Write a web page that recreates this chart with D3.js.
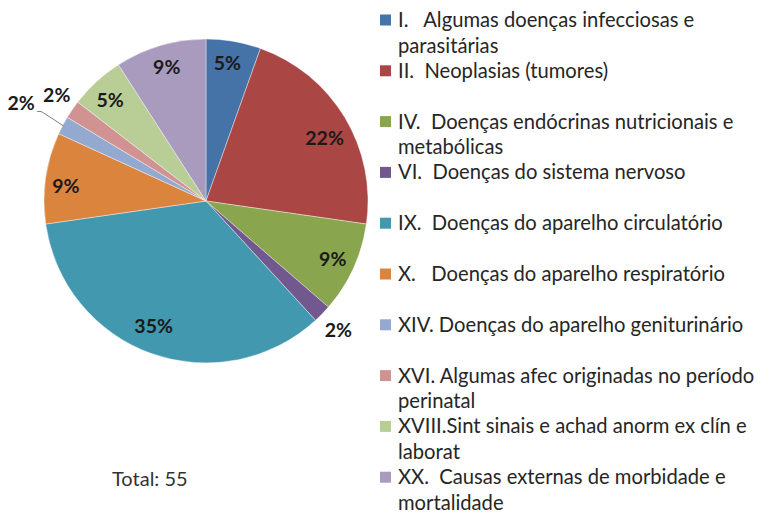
<!DOCTYPE html>
<html>
<head>
<meta charset="utf-8">
<script src="https://cdn.jsdelivr.net/npm/d3@7"></script>
<style>
	body { margin: 0; background: #fff; }
	svg { display: block; font-family: Lato, "Open Sans", sans-serif; }
	.legend text { font-size: 20.2px; fill: #262626; white-space: pre; }
	.pct { font-size: 19.5px; font-weight: bold; fill: #1a1a1a; }
</style>
</head>
<body>
<svg width="760" height="513"></svg>
<script>
// data (Total: 55)
const categories = [
	['I.   Algumas doenças infecciosas e', 'parasitárias'],
	['II.  Neoplasias (tumores)'],
	['IV.  Doenças endócrinas nutricionais e', 'metabólicas'],
	['VI.  Doenças do sistema nervoso'],
	['IX.  Doenças do aparelho circulatório'],
	['X.   Doenças do aparelho respiratório'],
	['XIV. Doenças do aparelho geniturinário'],
	['XVI. Algumas afec originadas no período', 'perinatal'],
	['XVIII.Sint sinais e achad anorm ex clín e', 'laborat'],
	['XX.  Causas externas de morbidade e', 'mortalidade']
];
const counts = [3, 12, 5, 1, 19, 5, 1, 1, 3, 5];
const colors = ['#4572A7', '#AA4643', '#89A54E', '#71588F', '#4198AF',
	'#DB843D', '#93A9CF', '#D19392', '#B9CD96', '#A99BBD'];

const width = 760, height = 513,
	cx = 206, cy = 201, radius = 162;

// label radius (as fraction of radius) and angle nudge in degrees, per slice
const labelK = [0.86, 0.83, 0.86, 1.14, 0.84, 0.87, 1.29, 1.13, 0.86, 0.86];
const labelNudge = [-1, 3, 0, 0, 3, -2, 0, 1, -1, 0];

const svg = d3.select('svg');

const pie = d3.pie().sort(null).value(d => d);
const arcs = pie(counts);
const total = d3.sum(counts);

const arc = d3.arc().innerRadius(0).outerRadius(radius);

const chart = svg.append('g')
	.attr('transform', `translate(${cx},${cy})`);

chart.selectAll('path')
	.data(arcs)
	.enter()
	.append('path')
	.attr('d', arc)
	.attr('fill', (d, i) => colors[i])
	.attr('stroke', '#fff')
	.attr('stroke-width', 0.4);

function polar(a, r) {
	return [Math.sin(a) * r, -Math.cos(a) * r];
}

arcs.forEach((d, i) => {
	let mid = (d.startAngle + d.endAngle) / 2 + labelNudge[i] * Math.PI / 180,
		p = polar(mid, radius * labelK[i]);
	chart.append('text')
		.attr('class', 'pct')
		.attr('x', p[0])
		.attr('y', p[1])
		.attr('dy', '0.35em')
		.attr('text-anchor', 'middle')
		.text(Math.round(d.data / total * 100) + '%');

	// leader line for the far-out label
	if (labelK[i] > 1.2) {
		let a = (d.startAngle + d.endAngle) / 2,
			edge = polar(a, radius - 1),
			start = [p[0] + 16, p[1] + 8];
		chart.append('polyline')
			.attr('points', [start, [start[0] + 4, start[1]], edge].map(q => q.join(',')).join(' '))
			.attr('fill', 'none')
			.attr('stroke', '#7f7f7f')
			.attr('stroke-width', 1);
	}
});

// legend
const legendX = 380, legendY = 20, legendStep = 50.8, lineH = 25.8;

const legend = svg.append('g').attr('class', 'legend');

categories.forEach((lines, i) => {
	let y = legendY + i * legendStep;
	legend.append('rect')
		.attr('x', legendX)
		.attr('y', y - 5.5)
		.attr('width', 11)
		.attr('height', 11)
		.attr('fill', colors[i]);
	lines.forEach((t, j) => {
		legend.append('text')
			.attr('x', legendX + 18)
			.attr('y', y + j * lineH)
			.attr('dy', '0.35em')
			.text(t);
	});
});

svg.append('text')
	.attr('x', 112)
	.attr('y', 479)
	.attr('dy', '0.35em')
	.style('font-size', '20px')
	.style('fill', '#333')
	.text('Total: 55');
</script>
</body>
</html>
